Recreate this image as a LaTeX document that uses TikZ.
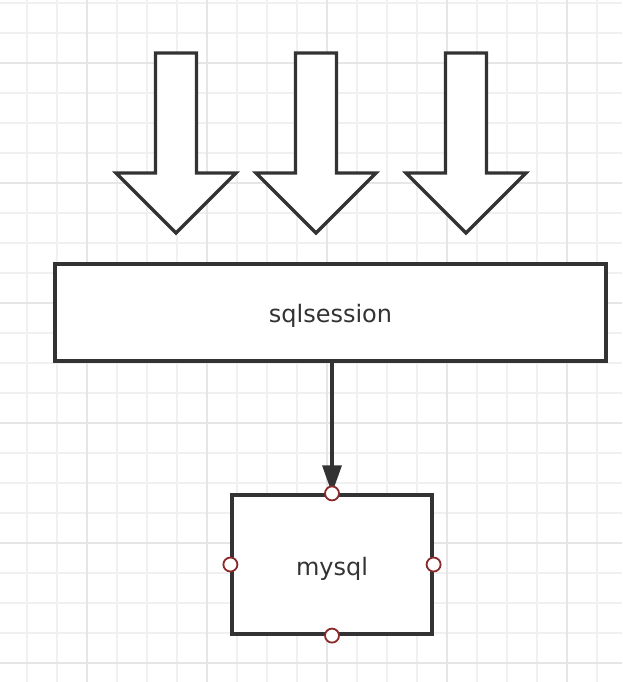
\documentclass[tikz,border=0pt]{standalone}
\usepackage{fontspec}
\setmainfont{DejaVu Sans}
\usetikzlibrary{arrows.meta}
\definecolor{ink}{HTML}{333333}
\definecolor{gridminor}{HTML}{F0F0F0}
\definecolor{gridmajor}{HTML}{E6E6E6}
\definecolor{port}{HTML}{8B2A2A}
\tikzset{
  outline/.style={draw=ink, line width=3.2pt, line join=miter},
  boxnode/.style={outline, fill=white, inner sep=0pt, font=\fontsize{24}{28}\selectfont, text=ink},
  blockarrow/.style={outline, fill=white},
  portdot/.style={circle, draw=port, fill=white, line width=1.8pt, minimum size=14pt, inner sep=0pt},
  link/.style={draw=ink, line width=3.2pt, -{Triangle[length=28pt,width=19pt]}}
}
\begin{document}
\begin{tikzpicture}[x=1pt,y=-1pt]
\useasboundingbox (0,0) rectangle (622,682);
\fill[white] (0,0) rectangle (622,682);
% grid
\foreach \x in {27,57,...,617} \draw[gridminor, line width=1.8pt] (\x,0) -- (\x,682);
\foreach \y in {3,33,...,681} \draw[gridminor, line width=1.8pt] (0,\y) -- (622,\y);
\foreach \x in {87,207,327,447,567} \draw[gridmajor, line width=2.6pt] (\x,0) -- (\x,682);
\foreach \y in {63,183,303,423,543,663} \draw[gridmajor, line width=2.6pt] (0,\y) -- (622,\y);
% block arrows
\foreach \c in {176,316,466}{
  \draw[blockarrow] (\c-20.5,53) -- (\c+20.5,53) -- (\c+20.5,173) -- (\c+60,173)
    -- (\c,233) -- (\c-60,173) -- (\c-20.5,173) -- cycle;
}
% boxes
\node[boxnode, minimum width=551pt, minimum height=97pt] (sess) at (330.5,312.5) {\raisebox{-9.5pt}[0pt][0pt]{sqlsession}};
\node[boxnode, minimum width=200pt, minimum height=139pt] (db) at (332,564.5) {\raisebox{-11pt}[0pt][0pt]{mysql}};
\draw[link] (sess.south -| db.north) -- (db.north);
% ports
\foreach \a in {north,south,east,west} \node[portdot] at (db.\a) {};
\end{tikzpicture}
\end{document}
